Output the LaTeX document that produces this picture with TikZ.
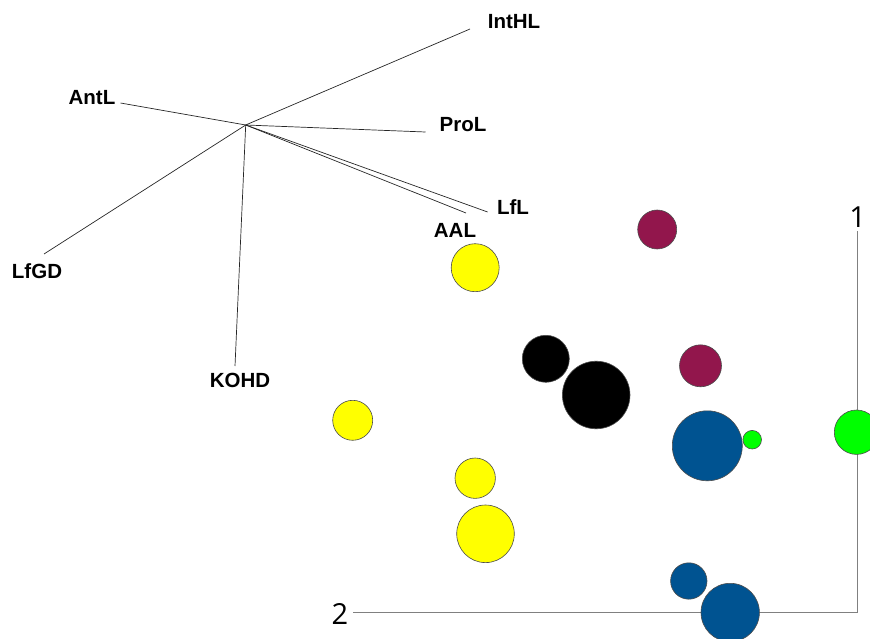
\documentclass[tikz,border=0pt]{standalone}
\usepackage{fontspec}
\setmainfont{Liberation Sans}
\newfontfamily\axisfont{Open Sans}
\usetikzlibrary{shapes}
\definecolor{dotplum}{RGB}{146,22,76}
\definecolor{dotblue}{RGB}{0,83,145}
\definecolor{dotgreen}{RGB}{0,255,0}
\definecolor{dotyellow}{RGB}{255,255,0}
\tikzstyle{var} = [inner sep=0pt,font=\bfseries\fontsize{20.5}{24}\selectfont]

\begin{document}
\begin{tikzpicture}
		[
		x=1pt,y=-1pt,
		dot/.style={
		draw=black!70,
		circle,
		inner sep=0pt,
		line width=0.6pt,
		minimum size=#1},
		ray/.style={draw=black!85,line width=0.7pt},
		axis/.style={draw=black!50,line width=1.1pt},
		num/.style={inner sep=0pt,font=\axisfont\fontsize{29}{30}\selectfont}
		]
		\useasboundingbox (0,0) rectangle (870,639);
		% biplot rays
		\coordinate (o) at (245.7,125);
		\coordinate (e_inthl) at (470,29);
		\coordinate (e_antl) at (120.5,103);
		\coordinate (e_prol) at (425.5,132);
		\coordinate (e_lfl) at (487.6,212);
		\coordinate (e_aal) at (466,213);
		\coordinate (e_lfgd) at (44,254);
		\coordinate (e_kohd) at (235,366);
		\node[var] (inthl) at (514,22) {IntHL};
		\node[var] (antl) at (92,98) {AntL};
		\node[var] (prol) at (463,125) {ProL};
		\node[var] (lfl) at (513,207) {LfL};
		\node[var] (aal) at (455,230) {AAL};
		\node[var] (lfgd) at (37,271) {LfGD};
		\node[var] (kohd) at (240,380.5) {KOHD};
		\foreach \e in {inthl,antl,prol,lfl,aal,lfgd,kohd}
			\draw[ray] (o) -- (e_\e);
		% axes
		\coordinate (ax2) at (353.3,612.3);
		\coordinate (axc) at (857.7,612.3);
		\coordinate (ax1) at (857.7,230.7);
		\draw[axis] (ax2) -- (axc) -- (ax1);
		\node[num] (lab1) at (857.7,217) {1};
		\node[num] (lab2) at (339.8,613.8) {2};
		% groups
		\node[dot=39pt,fill=dotplum] (p1) at (657.2,229.5) {};
		\node[dot=42pt,fill=dotplum] (p2) at (700.5,365.8) {};
		\node[dot=48pt,fill=dotyellow] (y1) at (475.2,267.7) {};
		\node[dot=40pt,fill=dotyellow] (y2) at (352.7,420.3) {};
		\node[dot=40.4pt,fill=dotyellow] (y3) at (475.2,478.2) {};
		\node[dot=57.6pt,fill=dotyellow] (y4) at (485.5,533.8) {};
		\node[dot=47pt,fill=black] (k1) at (545.8,358.8) {};
		\node[dot=67.6pt,fill=black] (k2) at (596.2,395) {};
		\node[dot=70pt,fill=dotblue] (b1) at (707.3,445.8) {};
		\node[dot=36.4pt,fill=dotblue] (b2) at (688.8,581) {};
		\node[dot=58.4pt,fill=dotblue] (b3) at (730.2,612.5) {};
		\node[dot=18.6pt,fill=dotgreen] (g1) at (752.2,439.7) {};
		\node[dot=44.4pt,fill=dotgreen] (g2) at (856.5,432.2) {};
		\end{tikzpicture}
\end{document}
